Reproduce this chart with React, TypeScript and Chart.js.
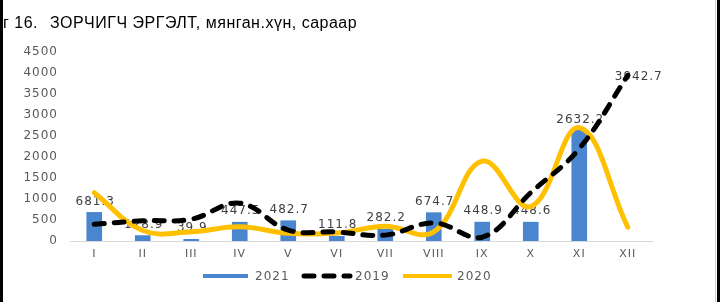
import React, { useEffect, useRef } from "react";
import { Chart, registerables } from "chart.js";

Chart.register(...registerables);

const months = ["I", "II", "III", "IV", "V", "VI", "VII", "VIII", "IX", "X", "XI", "XII"];
const values2021: (number | null)[] = [681.3, 128.9, 39.9, 447.5, 482.7, 111.8, 282.2, 674.7, 448.9, 448.6, 2632.2, null];
const values2019 = [400, 480, 520, 900, 260, 215, 140, 430, 90, 1150, 2200, 3942.7];
const values2020 = [1150, 250, 220, 340, 185, 190, 350, 215, 1900, 820, 2700, 330];
const yTicks = [0, 500, 1000, 1500, 2000, 2500, 3000, 3500, 4000, 4500];
const titleLead = "г 16.";
const titleMain = "ЗОРЧИГЧ ЭРГЭЛТ, мянган.хүн, сараар";

const FONT = "'DejaVu Sans', Verdana, sans-serif";
const SPACING = "1px";

const spacingPlugin = {
  id: "spacing",
  beforeLayout(chart: any) {
    chart.ctx.letterSpacing = SPACING;
  },
  beforeDraw(chart: any) {
    chart.ctx.letterSpacing = SPACING;
  },
  afterDatasetDraw(chart: any, args: any) {
    if (args.index !== 0) return;
    const ctx = chart.ctx;
    ctx.save();
    ctx.letterSpacing = SPACING;
    ctx.font = `12px ${FONT}`;
    ctx.fillStyle = "#404040";
    ctx.textAlign = "center";
    ctx.textBaseline = "middle";
    const barMeta = chart.getDatasetMeta(0);
    barMeta.data.forEach((el: any, i: number) => {
      const v = values2021[i];
      if (v == null) return;
      ctx.fillText(v.toFixed(1), el.x + 1, el.y - 11);
    });
    const lineMeta = chart.getDatasetMeta(1);
    const last = lineMeta.data[lineMeta.data.length - 1];
    if (last) {
      ctx.fillText(values2019[values2019.length - 1].toFixed(1), last.x + 11, last.y + 1);
    }
    ctx.restore();
  },
};

export default function App() {
  const ref = useRef<HTMLCanvasElement>(null);
  useEffect(() => {
    if (!ref.current) return;
    const chart = new Chart(ref.current, {
      type: "bar",
      data: {
        labels: months,
        datasets: [
          {
            type: "bar",
            label: "2021",
            data: values2021,
            backgroundColor: "#4a86d0",
            barThickness: 15,
            order: 2,
          },
          {
            type: "line",
            label: "2019",
            data: values2019,
            borderColor: "#000000",
            borderWidth: 5,
            borderDash: [10, 10],
            borderCapStyle: "round",
            pointRadius: 0,
            tension: 0.4,
            fill: false,
            order: 0,
          },
          {
            type: "line",
            label: "2020",
            data: values2020,
            borderColor: "#ffc000",
            borderWidth: 5,
            borderCapStyle: "round",
            pointRadius: 0,
            tension: 0.4,
            fill: false,
            order: 1,
          },
        ] as any,
      },
      options: {
        animation: false,
        responsive: false,
        maintainAspectRatio: false,
        layout: { padding: { left: 0, right: 68, top: 52, bottom: 0 } },
        plugins: {
          legend: { display: false },
          tooltip: { enabled: false },
          title: { display: false },
        },
        scales: {
          x: {
            offset: true,
            grid: { display: false, drawTicks: false },
            border: { display: true, color: "#d9d9d9", width: 1 },
            ticks: {
              color: "#595959",
              font: { family: FONT, size: 11 },
              padding: 7,
              maxRotation: 0,
              autoSkip: false,
            },
            afterFit(scale: any) {
              scale.height = 61;
            },
          },
          y: {
            min: 0,
            max: 4500,
            afterBuildTicks(scale: any) {
              scale.ticks = yTicks.map((v) => ({ value: v }));
            },
            grid: { display: false, drawTicks: false },
            border: { display: false },
            ticks: {
              color: "#595959",
              font: { family: FONT, size: 12 },
              padding: 12,
              callback: (v: any) => String(v),
            },
            afterFit(scale: any) {
              scale.width = 70;
            },
          },
        },
      },
      plugins: [spacingPlugin],
    });
    return () => chart.destroy();
  }, []);

  const legendText: React.CSSProperties = {
    position: "absolute",
    top: 269,
    fontFamily: FONT,
    fontSize: 12,
    letterSpacing: SPACING,
    color: "#595959",
    lineHeight: "14px",
  };

  return (
    <div style={{ position: "fixed", left: 0, top: 0, width: 720, height: 302, background: "#ffffff", overflow: "hidden" }}>
      <canvas ref={ref} width={720} height={302} style={{ position: "absolute", left: 0, top: 0, width: 720, height: 302 }} />
      <div style={{ position: "absolute", left: 3, top: 14, fontFamily: "'Liberation Sans', Arial, sans-serif", fontSize: 16, lineHeight: "18px", color: "#000", letterSpacing: "0.5px", whiteSpace: "nowrap" }}>
        {titleLead}
      </div>
      <div style={{ position: "absolute", left: 50, top: 14, fontFamily: "'Liberation Sans', Arial, sans-serif", fontSize: 16, lineHeight: "18px", color: "#000", letterSpacing: "0.5px", whiteSpace: "nowrap" }}>
        {titleMain}
      </div>
      <div style={{ position: "absolute", left: 203, top: 274, width: 45, height: 4, background: "#4a86d0" }} />
      <div style={{ ...legendText, left: 255 }}>2021</div>
      <svg style={{ position: "absolute", left: 300, top: 272 }} width={54} height={8}>
        <line x1={4} y1={4} x2={50} y2={4} stroke="#000" strokeWidth={5} strokeDasharray="10 10" strokeLinecap="round" />
      </svg>
      <div style={{ ...legendText, left: 355 }}>2019</div>
      <div style={{ position: "absolute", left: 403, top: 274, width: 49, height: 4, background: "#ffc000" }} />
      <div style={{ ...legendText, left: 457 }}>2020</div>
      <div style={{ position: "absolute", left: 0, top: 0, width: 3, height: 302, background: "#000" }} />
      <div style={{ position: "absolute", left: 715, top: 0, width: 1, height: 302, background: "#d0d0d0" }} />
      <div style={{ position: "absolute", left: 717, top: 0, width: 3, height: 302, background: "#000" }} />
    </div>
  );
}
